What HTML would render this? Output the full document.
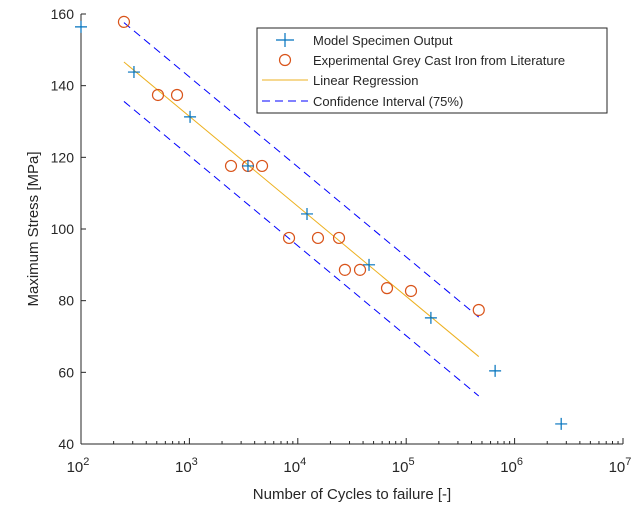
<!DOCTYPE html>
<html><head><meta charset="utf-8"><style>
body{margin:0;background:#fff}
svg text{font-family:"Liberation Sans",Arial,sans-serif;fill:#262626}
</style></head><body>
<svg id="chart" width="637" height="502" viewBox="0 0 637 502" xmlns="http://www.w3.org/2000/svg">
<g id="axes"></g>
<g id="plot"></g>
<g id="legend">
<rect x="257" y="28" width="350" height="85" fill="#fff" stroke="#262626" stroke-width="1"/>
<line x1="276" y1="40" x2="294" y2="40" stroke="#0072bd" stroke-width="1.2"/><line x1="285" y1="33" x2="285" y2="47" stroke="#0072bd" stroke-width="1.2"/>
<text x="313" y="45" font-size="13">Model Specimen Output</text>
<circle cx="285" cy="60" r="5.5" fill="none" stroke="#d95319" stroke-width="1.2"/>
<text x="313" y="65" font-size="13">Experimental Grey Cast Iron from Literature</text>
<line x1="262" y1="80" x2="308" y2="80" stroke="#edb120" stroke-width="1"/>
<text x="313" y="85" font-size="13">Linear Regression</text>
<line x1="262" y1="101" x2="308" y2="101" stroke="#0000ff" stroke-width="1" stroke-dasharray="8,5"/>
<text x="313" y="106" font-size="13">Confidence Interval (75%)</text>
</g>
<text x="352" y="499" font-size="15" text-anchor="middle">Number of Cycles to failure [-]</text>
<text transform="translate(38,229) rotate(-90)" font-size="15" text-anchor="middle">Maximum Stress [MPa]</text>
</svg>
<script>
const modelCycles=[100,308,1014,3470,12160,45400,169000,661000,2690000];
const modelStress=[156.4,143.8,131.3,117.6,104.2,90,75.2,60.4,45.6];
const expCycles=[249,513,769,2420,3470,4680,8300,15350,24000,27200,37500,66500,110700,467000];
const expStress=[157.8,137.4,137.4,117.6,117.6,117.6,97.5,97.5,97.5,88.6,88.6,83.5,82.7,77.4];
const regCycles=[249,467000];
const regStress=[146.6,64.4];
const ciOffset=[11,-11];
const yTicks=[40,60,80,100,120,140,160];
const xTickExps=[2,3,4,5,6,7];

const L=81,R=623,T=14,B=444;
const xs=c=>L+(Math.log10(c)-2)/5*(R-L);
const ys=v=>B-(v-40)/120*(B-T);
const NS="http://www.w3.org/2000/svg";
function mk(tag,attrs,parent){const e=document.createElementNS(NS,tag);for(const k in attrs)e.setAttribute(k,attrs[k]);parent.appendChild(e);return e;}
const ax=document.getElementById('axes'),pl=document.getElementById('plot');
let a=mk('line',{x1:L,y1:T,x2:L,y2:B,stroke:'#262626'},ax);


a=mk('line',{x1:L,y1:B,x2:R,y2:B,stroke:'#262626'},ax);


yTicks.forEach(v=>{const y=ys(v);mk('line',{x1:L,y1:y,x2:L+5,y2:y,stroke:'#262626'},ax);
const t=mk('text',{x:L-7,y:y+5,'font-size':14,'text-anchor':'end'},ax);t.textContent=v;

});
xTickExps.forEach(e=>{const x=xs(Math.pow(10,e));mk('line',{x1:x,y1:B,x2:x,y2:B-6,stroke:'#262626'},ax);
if(e<7)for(let m=2;m<10;m++){const xm=xs(m*Math.pow(10,e));mk('line',{x1:xm,y1:B,x2:xm,y2:B-3,stroke:'#262626'},ax);}
const t=mk('text',{x:x-3,y:B+28,'font-size':15,'text-anchor':'middle'},ax);t.textContent='10';
const s=mk('tspan',{dy:-7,'font-size':11},t);s.textContent=e;

});
ciOffset.forEach((o,i)=>{const l=mk('line',{x1:xs(regCycles[0]),y1:ys(regStress[0]+o),x2:xs(regCycles[1]),y2:ys(regStress[1]+o),stroke:'#0000ff','stroke-dasharray':'8,5'},pl);

});
const rl=mk('line',{x1:xs(regCycles[0]),y1:ys(regStress[0]),x2:xs(regCycles[1]),y2:ys(regStress[1]),stroke:'#edb120'},pl);


expCycles.forEach((c,i)=>{const e=mk('circle',{cx:xs(c),cy:ys(expStress[i]),r:5.5,fill:'none',stroke:'#d95319','stroke-width':1.2},pl);

});
modelCycles.forEach((c,i)=>{const x=xs(c),y=ys(modelStress[i]);const g=mk('path',{d:`M${x-6},${y}H${x+6}M${x},${y-6}V${y+6}`,stroke:'#0072bd','stroke-width':1.2},pl);

});
</script>
</body></html>
